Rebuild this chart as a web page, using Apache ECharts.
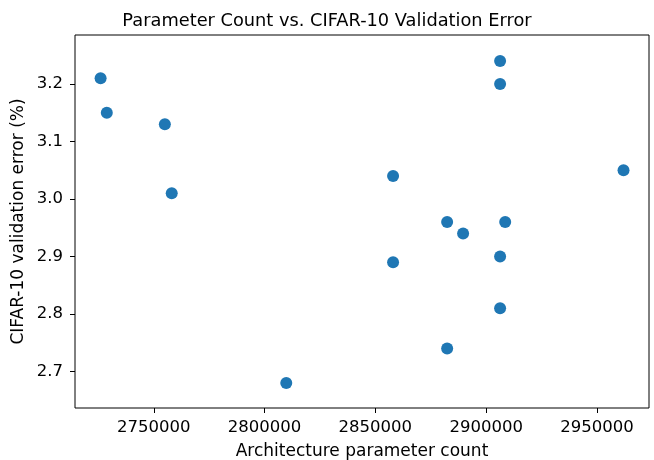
<!DOCTYPE html>
<html>
<head>
<meta charset="utf-8">
<script src="https://cdn.jsdelivr.net/npm/echarts@6/dist/echarts.min.js"></script>
<style>
  html, body { margin: 0; padding: 0; background: #fff; }
  #chart { width: 654px; height: 460px; }
</style>
</head>
<body>
<div id="chart"></div>
<script>
// data
const paramCounts = [2726000, 2728800, 2755000, 2758100, 2809800, 2858000, 2858000,
  2882400, 2882400, 2889600, 2906300, 2906300, 2906300, 2906300, 2908600, 2962000]
const valErrors = [3.21, 3.15, 3.13, 3.01, 2.68, 3.04, 2.89,
  2.96, 2.74, 2.94, 3.24, 3.20, 2.90, 2.81, 2.96, 3.05]
const xTicks = [2750000, 2800000, 2850000, 2900000, 2950000]
const yTicks = [2.7, 2.8, 2.9, 3.0, 3.1, 3.2]

const points = paramCounts.map((p, i) => [p, valErrors[i]])

const chart = echarts.init(document.getElementById('chart'))
const font = 'DejaVu Sans'

chart.setOption({
  animation: false,
  title: {
    text: 'Parameter Count vs. CIFAR-10 Validation Error',
    left: 'center',
    top: 7,
    textStyle: { fontFamily: font, fontSize: 17.8, fontWeight: 'normal', color: '#000' }
  },
  grid: {
    left: 75, right: 5, top: 35, bottom: 52,
    outerBoundsMode: 'none',
    containLabel: false,
    show: true, borderColor: '#000', borderWidth: 1
  },
  xAxis: {
    type: 'value',
    min: 2714450,
    max: 2973500,
    name: 'Architecture parameter count',
    nameLocation: 'middle',
    nameGap: 35,
    nameMoveOverlap: false,
    nameTextStyle: { fontFamily: font, fontSize: 17, color: '#000' },
    splitLine: { show: false },
    axisLine: { show: false, onZero: false },
    axisTick: { show: true, length: 5, lineStyle: { color: '#000' }, customValues: xTicks },
    axisLabel: {
      fontFamily: font, fontSize: 16.5, color: '#000', margin: 11,
      customValues: xTicks,
      formatter: v => String(v)
    }
  },
  yAxis: {
    type: 'value',
    min: 2.6367,
    max: 3.2854,
    name: 'CIFAR-10 validation error (%)',
    nameLocation: 'middle',
    nameGap: 48,
    nameMoveOverlap: false,
    nameTextStyle: { fontFamily: font, fontSize: 17, color: '#000' },
    splitLine: { show: false },
    axisLine: { show: false, onZero: false },
    axisTick: { show: true, length: 5, lineStyle: { color: '#000' }, customValues: yTicks },
    axisLabel: {
      fontFamily: font, fontSize: 16.5, color: '#000', margin: 12,
      customValues: yTicks,
      formatter: v => v.toFixed(1)
    }
  },
  series: [{
    type: 'scatter',
    data: points,
    symbolSize: 12,
    itemStyle: { color: '#1f77b4', opacity: 1 }
  }]
})
</script>
</body>
</html>
